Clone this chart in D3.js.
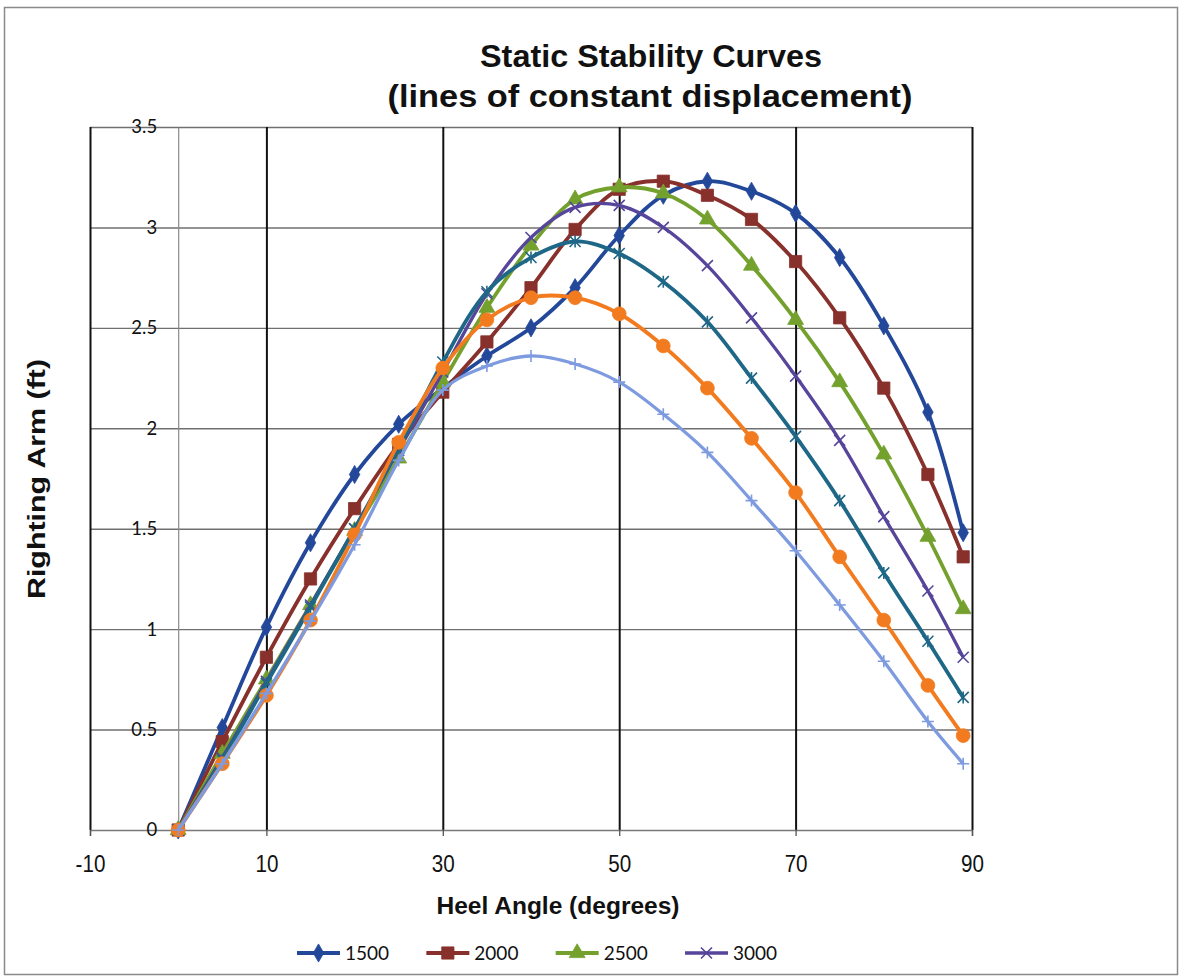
<!DOCTYPE html>
<html>
<head>
<meta charset="utf-8">
<script src="https://cdn.jsdelivr.net/npm/d3@7/dist/d3.min.js"></script>
<style>
  html, body { margin: 0; padding: 0; background: #fff; }
  svg { display: block; }
</style>
</head>
<body>
<svg id="chart" width="1181" height="978"></svg>
<script>
// Heel angles (degrees) at which the righting arm was computed
const heelAngles = [0, 5, 10, 15, 20, 25, 30, 35, 40, 45, 50, 55, 60, 65, 70, 75, 80, 85, 89];

// Righting arm (ft), one list per displacement
const arm1500 = [0, 0.51, 1.01, 1.43, 1.77, 2.02, 2.20, 2.36, 2.50, 2.70, 2.96, 3.16, 3.23, 3.18, 3.07, 2.85, 2.51, 2.08, 1.48];
const arm2000 = [0, 0.44, 0.86, 1.25, 1.60, 1.92, 2.18, 2.43, 2.70, 2.99, 3.19, 3.23, 3.16, 3.04, 2.83, 2.55, 2.20, 1.77, 1.36];
const arm2500 = [0, 0.38, 0.75, 1.12, 1.49, 1.85, 2.23, 2.60, 2.91, 3.14, 3.20, 3.17, 3.04, 2.81, 2.54, 2.23, 1.87, 1.46, 1.10];
const arm3000 = [0, 0.36, 0.74, 1.12, 1.50, 1.89, 2.28, 2.67, 2.95, 3.10, 3.11, 3.00, 2.81, 2.55, 2.26, 1.94, 1.56, 1.19, 0.86];
const arm3500 = [0, 0.35, 0.73, 1.11, 1.50, 1.90, 2.33, 2.68, 2.85, 2.93, 2.87, 2.73, 2.53, 2.25, 1.96, 1.64, 1.28, 0.94, 0.66];
const arm4000 = [0, 0.33, 0.67, 1.045, 1.47, 1.93, 2.30, 2.54, 2.65, 2.65, 2.57, 2.41, 2.20, 1.95, 1.68, 1.36, 1.045, 0.72, 0.47];
const arm4500 = [0, 0.33, 0.68, 1.04, 1.42, 1.84, 2.19, 2.31, 2.36, 2.32, 2.23, 2.07, 1.88, 1.64, 1.39, 1.12, 0.84, 0.54, 0.33];

const displacements = ["1500", "2000", "2500", "3000", "3500", "4000", "4500"];
const legendNames = ["1500", "2000", "2500", "3000"];

const xTicks = [-10, 10, 30, 50, 70, 90];
const yTicks = [0, 0.5, 1, 1.5, 2, 2.5, 3, 3.5];

// Styling per displacement
const styles = {
  "1500": { color: "#23489a", marker: "diamond", width: 3.8 },
  "2000": { color: "#88302b", marker: "square",  width: 3.8 },
  "2500": { color: "#74a12e", marker: "triangle", width: 3.8 },
  "3000": { color: "#56459a", marker: "cross",   width: 3.3 },
  "3500": { color: "#1f6787", marker: "star",    width: 3.8 },
  "4000": { color: "#f37b1f", marker: "circle",  width: 3.8 },
  "4500": { color: "#7e9be0", marker: "plus",    width: 3.3 }
};

const seriesValues = [arm1500, arm2000, arm2500, arm3000, arm3500, arm4000, arm4500];
const series = displacements.map((name, i) => ({
  name,
  points: heelAngles.map((a, j) => ({ x: a, y: seriesValues[i][j] }))
}));

const svg = d3.select("#chart");

const plot = { left: 90, right: 972, top: 127, bottom: 830 };
const x = d3.scaleLinear().domain([-10, 90]).range([plot.left, plot.right]);
const y = d3.scaleLinear().domain([0, 3.5]).range([plot.bottom, plot.top]);

// Outer chart frame
svg.append("rect")
  .attr("x", 4.5).attr("y", 7.5)
  .attr("width", 1173).attr("height", 967)
  .attr("fill", "none").attr("stroke", "#8a8a8a").attr("stroke-width", 1.5);

// Horizontal gridlines
svg.append("g")
  .attr("transform", `translate(${plot.left},0)`)
  .call(d3.axisLeft(y).tickValues(yTicks.slice(1)).tickSize(-(plot.right - plot.left)).tickFormat(""))
  .call(g => g.select(".domain").remove())
  .call(g => g.selectAll("line").attr("stroke", "#707070").attr("stroke-width", 1.4));

// Vertical gridlines
svg.append("g")
  .attr("transform", `translate(0,${plot.top})`)
  .call(d3.axisTop(x).tickValues(xTicks).tickSize(-(plot.bottom - plot.top)).tickFormat(""))
  .call(g => g.select(".domain").remove())
  .call(g => g.selectAll("line").attr("stroke", "#111").attr("stroke-width", 2));

// X axis along zero righting arm
const xAxis = svg.append("g")
  .attr("transform", `translate(0,${y(0)})`)
  .call(d3.axisBottom(x).tickValues(xTicks).tickSize(6).tickPadding(19).tickFormat(d => String(d)));
xAxis.select(".domain").attr("stroke", "#7a7a7a").attr("stroke-width", 1.5);
xAxis.selectAll(".tick line").attr("stroke", "#555").attr("stroke-width", 1.3);
xAxis.selectAll(".tick text")
  .attr("font-family", "'Liberation Sans', Arial, sans-serif")
  .attr("font-size", 24)
  .attr("fill", "#111")
  .attr("transform", "scale(0.86,1)");

// Y axis at heel angle zero
const yAxis = svg.append("g")
  .attr("transform", `translate(${x(0)},0)`)
  .call(d3.axisLeft(y).tickValues(yTicks).tickSize(0).tickPadding(21).tickFormat(d => String(d)));
yAxis.select(".domain").attr("stroke", "#8a8a8a").attr("stroke-width", 1.2);
yAxis.selectAll(".tick text")
  .attr("font-family", "Lato, 'Noto Sans', sans-serif")
  .attr("font-size", 18.5)
  .attr("fill", "#111");

// Marker shapes
function markerPath(kind) {
  switch (kind) {
    case "diamond":  return d3.symbol().type(d3.symbolDiamond).size(95)();
    case "square":   return d3.symbol().type(d3.symbolSquare).size(150)();
    case "triangle": return d3.symbol().type(d3.symbolTriangle).size(110)();
    case "circle":   return d3.symbol().type(d3.symbolCircle).size(150)();
    case "cross":    return "M-5.5,-5.5L5.5,5.5M-5.5,5.5L5.5,-5.5";
    case "star":     return "M-5.5,-5.5L5.5,5.5M-5.5,5.5L5.5,-5.5M0,-6L0,6";
    case "plus":     return "M-6,0L6,0M0,-6L0,6";
  }
}
function isStroked(kind) { return kind === "cross" || kind === "star" || kind === "plus"; }

const line = d3.line()
  .x(d => x(d.x))
  .y(d => y(d.y))
  .curve(d3.curveCatmullRom.alpha(0.5));

const seriesG = svg.append("g");
series.forEach(s => {
  const st = styles[s.name];
  const g = seriesG.append("g");
  g.append("path")
    .datum(s.points)
    .attr("d", line)
    .attr("fill", "none")
    .attr("stroke", st.color)
    .attr("stroke-width", st.width)
    .attr("stroke-linejoin", "round");
  g.selectAll("path.mk")
    .data(s.points)
    .join("path")
    .attr("class", "mk")
    .attr("transform", d => `translate(${x(d.x)},${y(d.y)})`)
    .attr("d", markerPath(st.marker))
    .attr("fill", isStroked(st.marker) ? "none" : st.color)
    .attr("stroke", st.color)
    .attr("stroke-width", isStroked(st.marker) ? 1.6 : 0.8);
});

// Titles
svg.append("text")
  .attr("x", 651).attr("y", 67)
  .attr("text-anchor", "middle")
  .attr("font-family", "'Liberation Sans', Arial, sans-serif")
  .attr("font-weight", "bold").attr("font-size", 31)
  .attr("textLength", 342).attr("lengthAdjust", "spacingAndGlyphs")
  .attr("fill", "#111")
  .text("Static Stability Curves");
svg.append("text")
  .attr("x", 650).attr("y", 107)
  .attr("text-anchor", "middle")
  .attr("font-family", "'Liberation Sans', Arial, sans-serif")
  .attr("font-weight", "bold").attr("font-size", 31)
  .attr("textLength", 525).attr("lengthAdjust", "spacingAndGlyphs")
  .attr("fill", "#111")
  .text("(lines of constant displacement)");

svg.append("text")
  .attr("x", 558).attr("y", 914)
  .attr("text-anchor", "middle")
  .attr("font-family", "'Liberation Sans', Arial, sans-serif")
  .attr("font-weight", "bold").attr("font-size", 23)
  .attr("textLength", 243).attr("lengthAdjust", "spacingAndGlyphs")
  .attr("fill", "#111")
  .text("Heel Angle (degrees)");

svg.append("text")
  .attr("transform", "translate(45,479) rotate(-90)")
  .attr("text-anchor", "middle")
  .attr("font-family", "'Liberation Sans', Arial, sans-serif")
  .attr("font-weight", "bold").attr("font-size", 23)
  .attr("textLength", 240).attr("lengthAdjust", "spacingAndGlyphs")
  .attr("fill", "#111")
  .text("Righting Arm (ft)");

// Legend
const legendX = d3.scalePoint().domain(legendNames).range([297, 685]);
const legend = svg.append("g").attr("transform", "translate(0,953)");
legendNames.forEach(name => {
  const st = styles[name];
  const lx = legendX(name);
  const item = legend.append("g").attr("transform", `translate(${lx},0)`);
  item.append("line")
    .attr("x1", 0).attr("x2", 43).attr("y1", 0).attr("y2", 0)
    .attr("stroke", st.color).attr("stroke-width", st.width);
  item.append("path")
    .attr("transform", "translate(21.5,0)")
    .attr("d", markerPath(st.marker))
    .attr("fill", isStroked(st.marker) ? "none" : st.color)
    .attr("stroke", st.color)
    .attr("stroke-width", isStroked(st.marker) ? 1.6 : 0.8);
  item.append("text")
    .attr("x", 48).attr("y", 6.5)
    .attr("font-family", "Lato, 'Noto Sans', sans-serif")
    .attr("font-size", 19)
    .attr("fill", "#111")
    .text(name);
});
</script>
</body>
</html>
